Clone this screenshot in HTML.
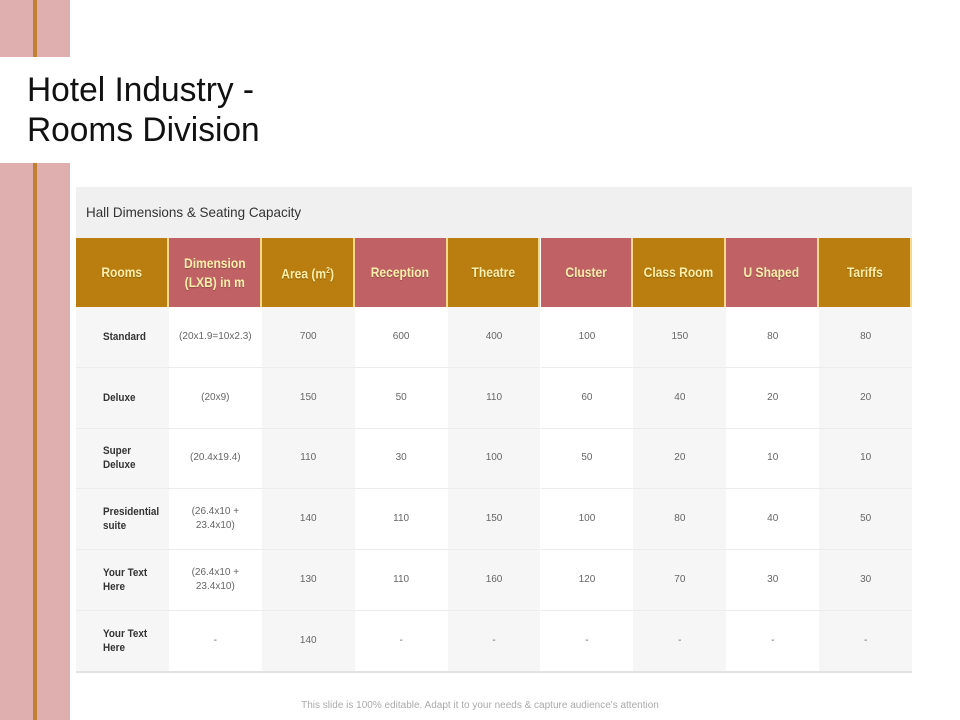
<!DOCTYPE html>
<html><head><meta charset="utf-8">
<style>
body{margin:0;width:960px;height:720px;position:relative;background:#fff;font-family:"Liberation Sans",Arial,sans-serif;overflow:hidden}
.abs{position:absolute}
.cell{position:absolute;display:flex;align-items:center;justify-content:center;text-align:center;box-sizing:border-box}
.hd{color:#fdeeaa;font-weight:bold;font-size:14px;line-height:19px;border-right:2px solid #f5d98a;text-shadow:0 1px 1px rgba(0,0,0,.25)}
.hd span{display:inline-block;transform:scaleX(0.86)}
.bd{font-size:10px;color:#666;line-height:14px;border-bottom:1px solid #ececec}
.rl{justify-content:flex-start;padding-left:27px;text-align:left;font-weight:bold;color:#333;font-size:11px}
.rl span{display:inline-block;transform:scaleX(0.9);transform-origin:left center}
</style></head><body>
<div class="abs" style="left:0;top:0;width:70px;height:57px;background:#dfaeae"></div>
<div class="abs" style="left:0;top:163px;width:70px;height:557px;background:#dfaeae"></div>
<div class="abs" style="left:33px;top:0;width:4px;height:57px;background:#bf8030"></div>
<div class="abs" style="left:33px;top:163px;width:4px;height:557px;background:#bf8030"></div>
<div class="abs" style="left:27px;top:70px;font-size:34px;line-height:40px;color:#111;transform:scaleX(0.985);transform-origin:left top">Hotel Industry -<br>Rooms Division</div>
<div class="abs" style="left:76px;top:187px;width:836px;height:51px;background:#f0f0f0"></div>
<div class="abs" style="left:86px;top:204px;font-size:14px;color:#333;transform:scaleX(0.96);transform-origin:left top">Hall Dimensions &amp; Seating Capacity</div>
<div id="tbl"></div>
<div class="abs" style="left:76px;top:671px;width:836px;height:2px;background:#e2e2e2"></div>
<div class="abs" style="left:0;width:960px;top:700px;text-align:center;font-size:10px;color:#aaa">This slide is 100% editable. Adapt it to your needs &amp; capture audience's attention</div>
<script>
const headers=["Rooms","Dimension<br>(LXB) in m","Area (m<sup style='font-size:8px'>2</sup>)","Reception","Theatre","Cluster","Class Room","U Shaped","Tariffs"];
const roomNames=["Standard","Deluxe","Super<br>Deluxe","Presidential<br>suite","Your Text<br>Here","Your Text<br>Here"];
const dims=["(20x1.9=10x2.3)","(20x9)","(20.4x19.4)","(26.4x10 +<br>23.4x10)","(26.4x10 +<br>23.4x10)","-"];
const area=["700","150","110","140","130","140"];
const reception=["600","50","30","110","110","-"];
const theatre=["400","110","100","150","160","-"];
const cluster=["100","60","50","100","120","-"];
const classRoom=["150","40","20","80","70","-"];
const uShaped=["80","20","10","40","30","-"];
const tariffs=["80","20","10","50","30","-"];
const cols=[roomNames,dims,area,reception,theatre,cluster,classRoom,uShaped,tariffs];
const t=document.getElementById('tbl');
const x0=76,cw=92.9,hy=238,hh=69,ry=307,rh=60.8;
headers.forEach((h,i)=>{
  const d=document.createElement('div');
  d.className='cell hd';
  
  
  d.style.cssText=`left:${x0+i*cw}px;top:${hy}px;width:${cw}px;height:${hh}px;background:${i%2?'#c06265':'#b97e0f'}`;
  d.innerHTML='<span>'+h+'</span>';t.appendChild(d);
});
cols.forEach((col,c)=>{
  col.forEach((v,r)=>{
    const d=document.createElement('div');
    d.className='cell bd'+(c==0?' rl':'');
    
    
    d.style.cssText=`left:${x0+c*cw}px;top:${ry+r*rh}px;width:${cw}px;height:${rh}px;background:${c%2?'#fff':'#f6f6f6'}`;
    d.innerHTML=c==0?'<span>'+v+'</span>':v;t.appendChild(d);
  });
});
</script>
</body></html>
